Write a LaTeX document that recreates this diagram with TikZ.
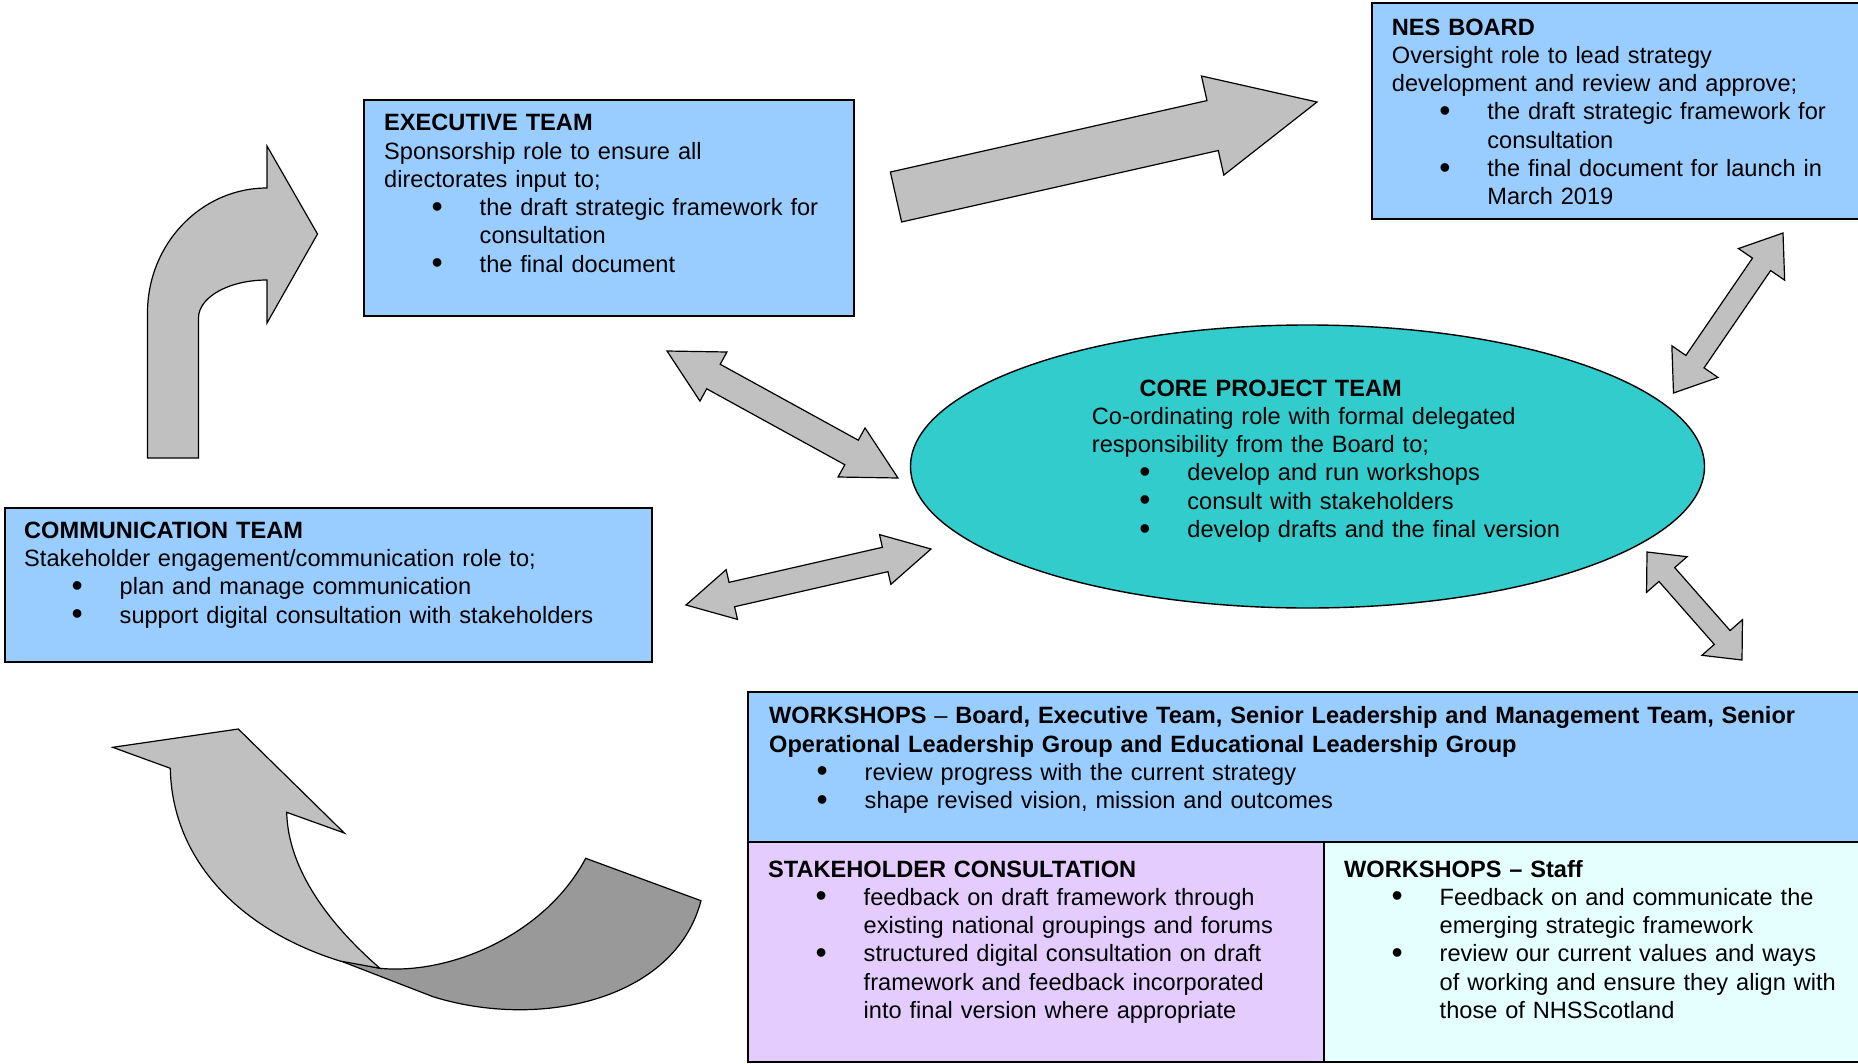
\documentclass[tikz,border=0pt]{standalone}
\usepackage{fontspec}
\setmainfont{Liberation Sans}
\usetikzlibrary{calc,shapes.geometric}
\setlength\parindent{0pt}
\definecolor{boxblue}{RGB}{153,204,255}
\definecolor{coreteal}{RGB}{51,204,204}
\definecolor{lilac}{RGB}{229,204,255}
\definecolor{paleaqua}{RGB}{229,255,255}
\definecolor{arrowgrey}{RGB}{192,192,192}
\definecolor{arrowdark}{RGB}{153,153,153}
\newlength\bulind
\newlength\itemind
\setlength\bulind{47.5pt}
\setlength\itemind{95.5pt}
\newcommand{\bul}[1]{\makebox[\itemind][l]{\hspace*{\bulind}\raisebox{-1.5pt}{\scalebox{1.35}{\textbullet}}}#1}
\newcommand{\cont}[1]{\hspace*{\itemind}#1}
% block arrows: [style]{tip}{tip}{shaft half width}{head half width}{head length}
\newcommand{\dblarrow}[6][]{%
  \draw[blockarrow,#1] (#2) -- ($(#2)!#6!(#3)!#5!90:(#3)$) -- ($(#2)!#6!(#3)!#4!90:(#3)$)
    -- ($(#3)!#6!(#2)!#4!-90:(#2)$) -- ($(#3)!#6!(#2)!#5!-90:(#2)$) -- (#3)
    -- ($(#3)!#6!(#2)!#5!90:(#2)$) -- ($(#3)!#6!(#2)!#4!90:(#2)$)
    -- ($(#2)!#6!(#3)!#4!-90:(#3)$) -- ($(#2)!#6!(#3)!#5!-90:(#3)$) -- cycle;}
\newcommand{\sglarrow}[6][]{%
  \draw[blockarrow,#1] ($(#2)!#4!90:(#3)$) -- ($(#3)!#6!(#2)!#4!-90:(#2)$)
    -- ($(#3)!#6!(#2)!#5!-90:(#2)$) -- (#3) -- ($(#3)!#6!(#2)!#5!90:(#2)$)
    -- ($(#3)!#6!(#2)!#4!90:(#2)$) -- ($(#2)!#4!-90:(#3)$) -- cycle;}

\begin{document}
\begin{tikzpicture}[x=1pt,y=-1pt,
    box/.style={draw,line width=1.6pt,fill=boxblue,inner sep=0,anchor=north west},
    txt/.style={anchor=base west,inner sep=0,align=left,text width=1100pt,
      font=\fontsize{23.6}{28.3}\selectfont},
    blockarrow/.style={draw,line width=1.2pt,fill=arrowgrey,line join=miter}]
    \useasboundingbox (0,0) rectangle (1858,1063);
    \clip (0,0) rectangle (1858,1063);
    % boxes
    \node[box,minimum width=490pt,minimum height=216pt] (exec) at (363,99) {};
    \node[box,minimum width=500pt,minimum height=216pt] (nes) at (1371,2) {};
    \node[box,minimum width=647pt,minimum height=154pt] (comm) at (4,507) {};
    \node[box,minimum width=1125pt,minimum height=150pt] (wksp) at (747,691) {};
    \node[box,fill=lilac,minimum width=576pt,minimum height=220pt] (stake) at (747,841) {};
    \node[box,fill=paleaqua,minimum width=545pt,minimum height=220pt] (staff) at (1323,841) {};
    \node[ellipse,draw,line width=1.4pt,fill=coreteal,inner sep=0,
      minimum width=794pt,minimum height=283pt] (core) at (1307.5,466.5) {};
    % texts
    \node[txt] (exec-txt) at (384,130.7) {{\bfseries EXECUTIVE TEAM}\\
      Sponsorship role to ensure all\\
      directorates input to;\\
      \bul{the draft strategic framework for}\\
      \cont{consultation}\\
      \bul{the final document}};
    \node[txt] (nes-txt) at (1391.7,35) {{\bfseries NES BOARD}\\
      Oversight role to lead strategy\\
      development and review and approve;\\
      \bul{the draft strategic framework for}\\
      \cont{consultation}\\
      \bul{the final document for launch in}\\
      \cont{March 2019}};
    \node[txt] (core-txt) at (1091.7,396) {\hspace*{47.6pt}{\bfseries CORE PROJECT TEAM}\\
      Co-ordinating role with formal delegated\\
      responsibility from the Board to;\\
      \bul{develop and run workshops}\\
      \bul{consult with stakeholders}\\
      \bul{develop drafts and the final version}};
    \node[txt] (comm-txt) at (24,538.3) {{\bfseries COMMUNICATION TEAM}\\
      Stakeholder engagement/communication role to;\\
      \bul{plan and manage communication}\\
      \bul{support digital consultation with stakeholders}};
    \node[txt] (wksp-txt) at (769,723.7) {{\bfseries WORKSHOPS} \textendash{} {\bfseries Board, Executive Team, Senior Leadership and Management Team, Senior}\\
      {\bfseries Operational Leadership Group and Educational Leadership Group}\\
      \bul{review progress with the current strategy}\\
      \bul{shape revised vision, mission and outcomes}};
    \node[txt] (stake-txt) at (768,877) {{\bfseries STAKEHOLDER CONSULTATION}\\
      \bul{feedback on draft framework through}\\
      \cont{existing national groupings and forums}\\
      \bul{structured digital consultation on draft}\\
      \cont{framework and feedback incorporated}\\
      \cont{into final version where appropriate}};
    \node[txt] (staff-txt) at (1344,877) {{\bfseries WORKSHOPS \textendash{} Staff}\\
      \bul{Feedback on and communicate the}\\
      \cont{emerging strategic framework}\\
      \bul{review our current values and ways}\\
      \cont{of working and ensure they align with}\\
      \cont{those of NHSScotland}};
    % arrow ends
    \coordinate (ex-tail) at (896,197);
    \coordinate (ne-tip) at (1317,102);
    \coordinate (ex-a) at (667,351);
    \coordinate (co-a) at (898,478);
    \coordinate (cm-b) at (686,605);
    \coordinate (co-b) at (931,549);
    \coordinate (ne-c) at (1783,233);
    \coordinate (co-c) at (1673.5,393);
    \coordinate (co-d) at (1647,552);
    \coordinate (wk-d) at (1742,660);
    % straight arrows
    \sglarrow{ex-tail}{ne-tip}{25.6pt}{50.8pt}{107pt}
    \dblarrow{ex-a}{co-a}{14pt}{28pt}{53pt}
    \dblarrow{cm-b}{co-b}{12.5pt}{25.5pt}{47pt}
    \dblarrow{ne-c}{co-c}{11pt}{28pt}{38pt}
    \dblarrow{co-d}{wk-d}{10.5pt}{27pt}{30pt}
    % bent arrow up to the executive team
    \draw[blockarrow] (147.5,458) -- (147.5,313) .. controls (147.5,244) and (201,188) .. (267,188)
      -- (267,146) -- (317.5,234) -- (267,323) -- (267,280)
      .. controls (229.2,280) and (198.5,297) .. (198.5,318) -- (198.5,458) -- cycle;
    % curved ribbon arrow
    \draw[blockarrow,fill=arrowdark] (333,958) -- (380,968.3) .. controls (450,975) and (545,935) .. (585.7,858.3)
      -- (701,900.7) .. controls (675,1000) and (540,1030) .. (433,996.7) -- cycle;
    \draw[blockarrow] (170.3,768.3) -- (112.7,747.3) -- (238.3,729) -- (344.3,833) -- (286.7,812.3)
      .. controls (288,870) and (330,925) .. (380,968.3) -- (340,961)
      .. controls (240,930) and (172,860) .. cycle;
\end{tikzpicture}
\end{document}
